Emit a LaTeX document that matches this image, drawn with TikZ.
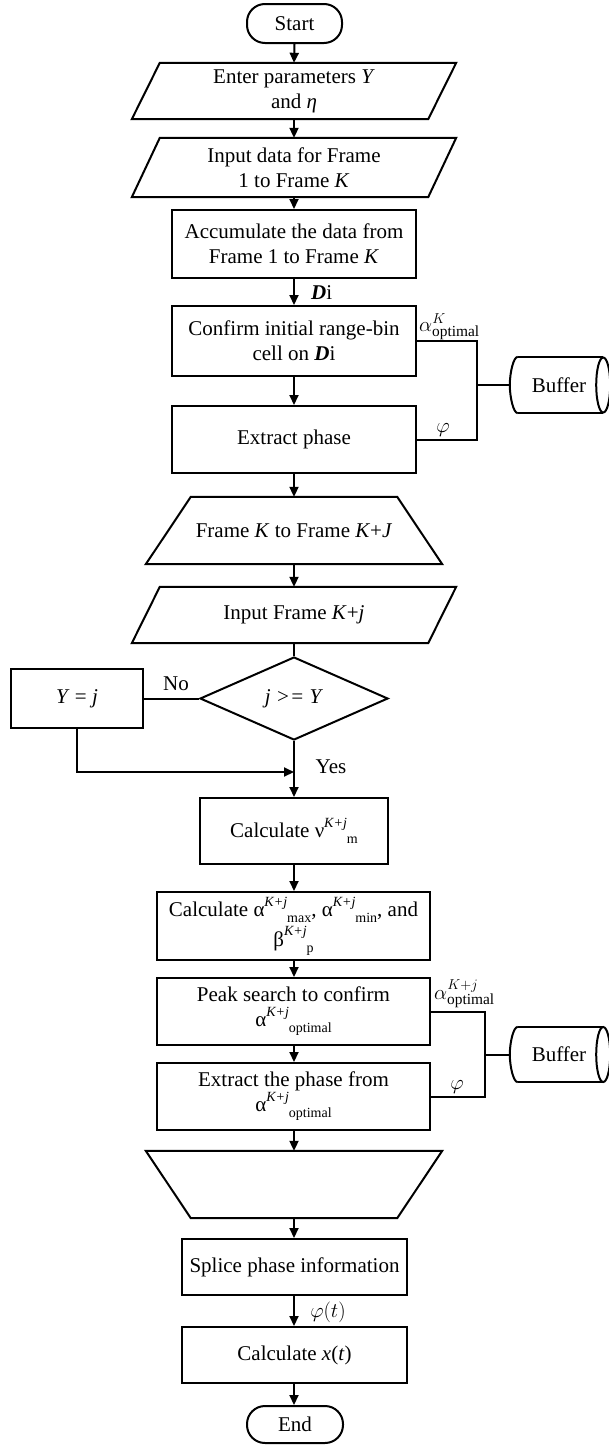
\documentclass[tikz,border=0pt]{standalone}
\usepackage{fontspec}
\setmainfont{Liberation Serif}
\usetikzlibrary{arrows.meta,shapes.geometric,calc}
\tikzset{
  txt/.style={inner sep=0pt, align=center, font=\fontsize{21}{25}\selectfont},
  proc/.style={txt, draw, line width=2pt},
  term/.style={proc, rounded corners=18pt},
  dec/.style={txt, draw, line width=2pt, diamond},
  ln/.style={line width=2pt},
  arr/.style={ln, -{Triangle[length=10pt,width=9pt]}},
  lbl/.style={inner sep=0pt, font=\fontsize{21}{25}\selectfont},
  mlbl/.style={inner sep=0pt, font=\fontsize{22}{26}\selectfont},
}
\newcommand{\supsub}[2]{\raisebox{0.5em}{\fontsize{14}{14}\selectfont\textit{#1}}\raisebox{-0.28em}{\fontsize{14}{14}\selectfont #2}}
\newcommand{\para}[1]{\draw[ln] ($(#1.north west)+(28,0)$) -- (#1.north east) -- ($(#1.south east)+(-28,0)$) -- (#1.south west) -- cycle;}
\newcommand{\trapup}[1]{\draw[ln] ($(#1.north west)+(45,0)$) -- ($(#1.north east)+(-45,0)$) -- (#1.south east) -- (#1.south west) -- cycle;}
\newcommand{\trapdown}[1]{\draw[ln] (#1.north west) -- (#1.north east) -- ($(#1.south east)+(-45,0)$) -- ($(#1.south west)+(45,0)$) -- cycle;}
\newcommand{\bufshape}[1]{%
  \draw[ln] ($(#1.north west)+(8,0)$) -- ($(#1.north east)+(-5,0)$);
  \draw[ln] ($(#1.south west)+(8,0)$) -- ($(#1.south east)+(-5,0)$);
  \draw[ln] ($(#1.north west)+(8,0)$) .. controls ($(#1.north west)+(3.6,0)$) and ($(#1.west)+(0,-12)$) .. (#1.west)
            .. controls ($(#1.west)+(0,12)$) and ($(#1.south west)+(3.6,0)$) .. ($(#1.south west)+(8,0)$);
  \draw[ln] ($(#1.east)+(-5,0)$) ellipse [x radius=7pt, y radius=27.5pt];
}
\begin{document}
\begin{tikzpicture}[x=1pt,y=-1pt]
\fill[white] (0,0) rectangle (609,1446);
\useasboundingbox (0,0) rectangle (609,1446);
\clip (0,0) rectangle (609,1446);

% nodes
\node[term, minimum width=95, minimum height=39] (start) at (294.5,23.5) {Start};
\node[txt, minimum width=324, minimum height=56] (enter) at (294,91) {Enter parameters \textit{Y}\\and \textit{η}};
\node[txt, minimum width=324, minimum height=59] (indata) at (294,167.5) {Input data for Frame\\1 to Frame \textit{K}};
\node[proc, minimum width=244, minimum height=68] (accum) at (294,244) {Accumulate the data from\\Frame 1 to Frame \textit{K}};
\node[proc, minimum width=244, minimum height=70] (confirm) at (294,341) {Confirm initial range-bin\\cell on \textbf{\textit{D}}i};
\node[proc, minimum width=244, minimum height=67] (extract1) at (294,439.5) {Extract phase};
\node[txt, minimum width=296, minimum height=67] (trap1) at (294,530.5) {Frame \textit{K} to Frame \textit{K}+\textit{J}};
\node[txt, minimum width=324, minimum height=56] (iframe) at (294,615) {Input Frame \textit{K}+\textit{j}};
\node[dec, minimum width=188, minimum height=83] (dec) at (294,698.5) {\textit{j >= Y}};
\node[proc, minimum width=132, minimum height=59] (yj) at (77,698.5) {\textit{Y} = \textit{j}};
\node[proc, minimum width=188, minimum height=66] (calcv) at (294,831) {Calculate ν\supsub{K+j}{m}};
\node[proc, minimum width=273, minimum height=68] (calcab) at (293.5,926) {Calculate α\supsub{K+j}{max}, α\supsub{K+j}{min}, and\\[3pt]β\supsub{K+j}{p}};
\node[proc, minimum width=273, minimum height=67] (peak) at (293.5,1011.5) {Peak search to confirm\\α\supsub{K+j}{optimal}};
\node[proc, minimum width=273, minimum height=67] (extract2) at (293.5,1096.5) {Extract the phase from\\α\supsub{K+j}{optimal}};
\node[txt, minimum width=296, minimum height=67] (trap2) at (294,1184.5) {};
\node[proc, minimum width=225, minimum height=56] (splice) at (294.5,1267) {Splice phase information};
\node[proc, minimum width=225, minimum height=56] (calcx) at (294.5,1355) {Calculate \textit{x}(\textit{t})};
\node[term, minimum width=96, minimum height=37] (end) at (295,1424.5) {End};
\node[txt, minimum width=98, minimum height=56] (buf1) at (559,385) {Buffer};
\node[txt, minimum width=98, minimum height=55] (buf2) at (559,1054.5) {Buffer};

% shapes
\para{enter}
\para{indata}
\para{iframe}
\trapup{trap1}
\trapdown{trap2}
\bufshape{buf1}
\bufshape{buf2}

% main flow
\draw[arr] (start.south) -- (enter.north);
\draw[arr] (enter.south) -- (indata.north);
\draw[arr] (indata.south) -- (accum.north);
\draw[arr] (accum.south) -- (confirm.north);
\draw[arr] (confirm.south) -- (extract1.north);
\draw[arr] (extract1.south) -- (trap1.north);
\draw[arr] (trap1.south) -- (iframe.north);
\draw[ln] (iframe.south) -- (dec.north);
\draw[ln] (dec.west) -- (yj.east);
\coordinate (merge) at (294,772);
\draw[arr] (yj.south) |- (merge);
\draw[arr] (dec.south) -- (calcv.north);
\draw[arr] (calcv.south) -- (calcab.north -| calcv.south);
\draw[arr] (calcab.south -| calcv.south) -- (peak.north -| calcv.south);
\draw[arr] (peak.south -| calcv.south) -- (extract2.north -| calcv.south);
\draw[arr] (extract2.south -| calcv.south) -- (trap2.north);
\draw[arr] (trap2.south) -- (splice.north -| trap2.south);
\draw[arr] (splice.south -| trap2.south) -- (calcx.north -| trap2.south);
\draw[arr] (calcx.south -| trap2.south) -- (end.north -| trap2.south);

% buffer links
\coordinate (j1) at (477,385);
\draw[ln] (confirm.east) -| (j1);
\draw[ln] (extract1.east) -| (j1);
\draw[ln] (j1) -- (buf1.west);
\coordinate (j2) at (485,1054.5);
\draw[ln] (peak.east) -| (j2);
\draw[ln] (extract2.east) -| (j2);
\draw[ln] (j2) -- (buf2.west);

% labels
\node[lbl, anchor=west] (ldi) at (311,293) {\textbf{\textit{D}}i};
\node[lbl] (lno) at (176,684) {No};
\node[lbl] (lyes) at (331,767) {Yes};
\node[mlbl] (lphit) at (328,1312) {$\varphi(t)$};
\node[mlbl, anchor=south west] (la1) at (419,340) {$\alpha^{K}_{\mathrm{optimal}}$};
\node[mlbl] (lp1) at (443,430) {$\varphi$};
\node[mlbl, anchor=south west] (la2) at (434,1008) {$\alpha^{K+j}_{\mathrm{optimal}}$};
\node[mlbl] (lp2) at (457,1087) {$\varphi$};
\end{tikzpicture}
\end{document}
